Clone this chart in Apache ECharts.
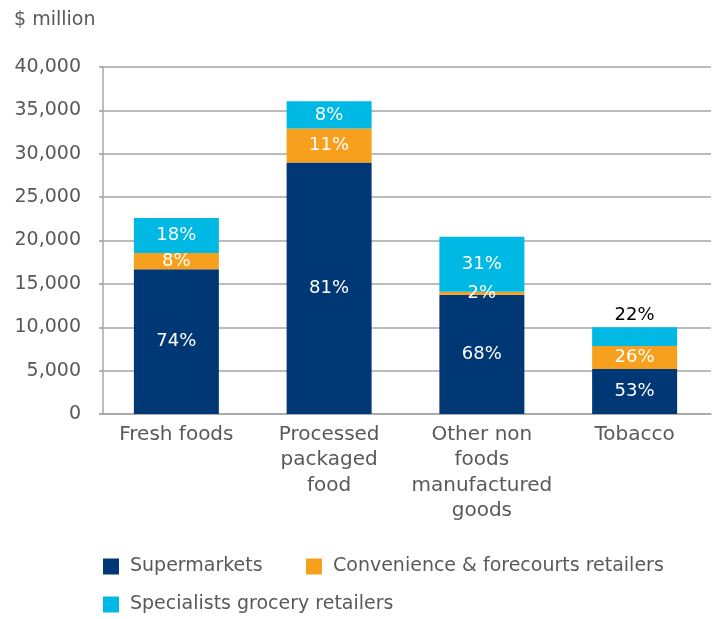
<!DOCTYPE html>
<html>
<head>
<meta charset="utf-8">
<script src="https://cdn.jsdelivr.net/npm/echarts@6/dist/echarts.min.js"></script>
<style>html,body{margin:0;padding:0;background:#fff}#c{width:713px;height:619px}</style>
</head>
<body>
<div id="c"></div>
<script>
var categories = ['Fresh foods', 'Processed\npackaged\nfood', 'Other non\nfoods\nmanufactured\ngoods', 'Tobacco'];
var seriesNames = ['Supermarkets', 'Convenience & forecourts retailers', 'Specialists grocery retailers'];
var supermarkets = [16700, 29000, 13750, 5200];
var convenience = [1850, 3900, 350, 2650];
var specialists = [4050, 3150, 6340, 2150];
var supPct = ['74%', '81%', '68%', '53%'];
var convPct = ['8%', '11%', '2%', '26%'];
var specPct = ['18%', '8%', '31%', '22%'];
var yTicks = [0, 5000, 10000, 15000, 20000, 25000, 30000, 35000, 40000];

var FONT = 'DejaVu Sans';
var GREY = '#595959';
var colors = ['#003876', '#F7A01D', '#00B8E4'];

function mkSeries(idx, values, pcts) {
  return {
    name: seriesNames[idx],
    type: 'bar',
    stack: 'total',
    barWidth: 85,
    itemStyle: { color: colors[idx] },
    label: {
      show: true,
      position: 'inside',
      color: '#ffffff',
      fontFamily: FONT,
      fontSize: 18,
      formatter: function (p) { return pcts[p.dataIndex]; }
    },
    data: values.map(function (v, i) {
      // Tobacco specialists label sits above the bar in black
      if (idx === 2 && i === 3) {
        return { value: v, label: { position: 'top', distance: 3, color: '#000000' } };
      }
      return v;
    })
  };
}

var chart = echarts.init(document.getElementById('c'), null, { renderer: 'canvas' });
chart.setOption({
  animation: false,
  title: {
    text: '$ million',
    left: 14, top: 11, padding: 0,
    textStyle: { fontFamily: FONT, fontSize: 19, fontWeight: 'normal', color: GREY }
  },
  legend: [
    { data: [seriesNames[0]], left: 103, top: 557 },
    { data: [seriesNames[1]], left: 306, top: 557 },
    { data: [seriesNames[2]], left: 103, top: 595 }
  ].map(function (l) {
    l.icon = 'rect'; l.itemWidth = 16; l.itemHeight = 16; l.itemGap = 0; l.padding = 0;
    l.textStyle = { fontFamily: FONT, fontSize: 19, color: GREY, padding: [0, 0, 0, 6] };
    return l;
  }),
  grid: { left: 100, right: 2, top: 67, bottom: 205, containLabel: false },
  xAxis: {
    type: 'category',
    data: categories,
    axisLine: { lineStyle: { color: '#A6A6A6', width: 1.5 } },
    axisTick: { show: false },
    axisLabel: { interval: 0, margin: 8, fontFamily: FONT, fontSize: 20, color: GREY, lineHeight: 25.5 }
  },
  yAxis: {
    type: 'value',
    min: 0, max: 40000, interval: 5000,
    offset: -3,
    axisLine: { show: true, lineStyle: { color: '#A6A6A6', width: 1.5 } },
    axisTick: { show: true, length: 4, lineStyle: { color: '#A6A6A6', width: 1.5 } },
    splitLine: { lineStyle: { color: '#A6A6A6', width: 1.5 } },
    axisLabel: {
      margin: 22, fontFamily: FONT, fontSize: 19, color: GREY,
      formatter: function (v) { return yTicks.indexOf(v) >= 0 ? v.toLocaleString('en-US') : ''; }
    }
  },
  series: [
    mkSeries(0, supermarkets, supPct),
    mkSeries(1, convenience, convPct),
    mkSeries(2, specialists, specPct)
  ]
});
</script>
</body>
</html>
